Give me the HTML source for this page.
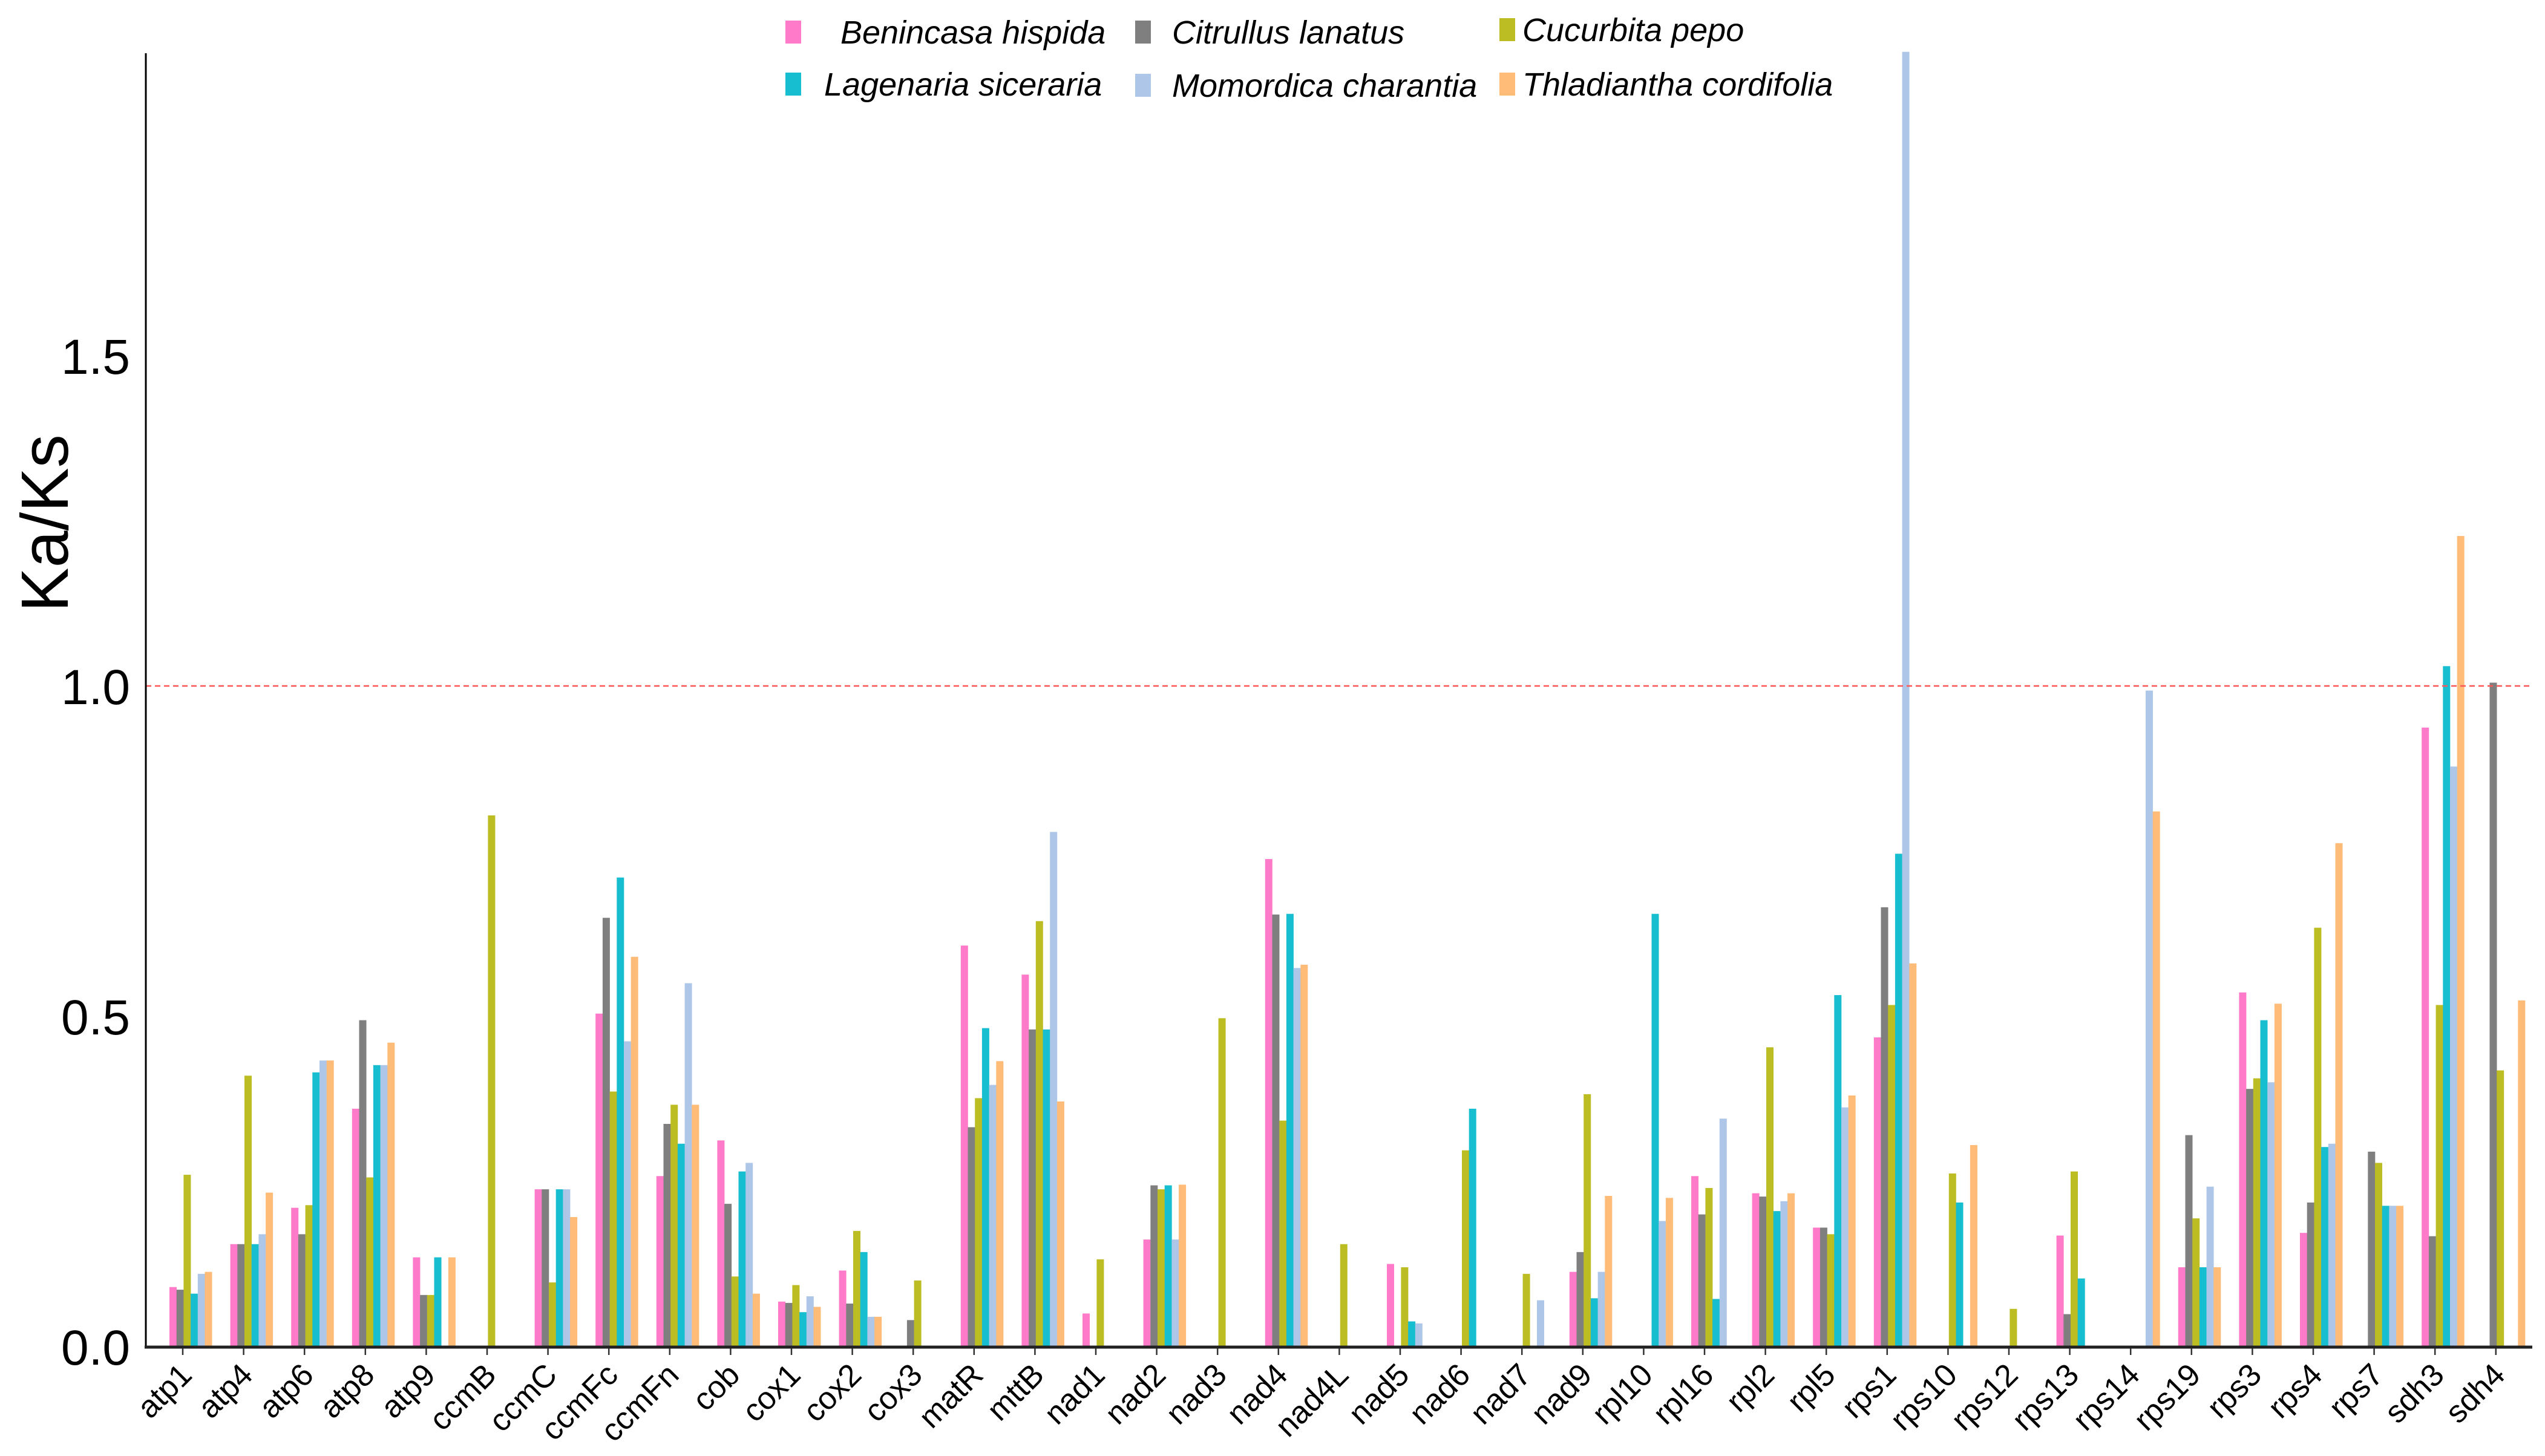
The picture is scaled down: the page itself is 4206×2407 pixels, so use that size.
<!DOCTYPE html>
<html><head><meta charset="utf-8"><style>
html,body{margin:0;padding:0;background:#fff;}
svg{display:block;font-family:"Liberation Sans",Arial,sans-serif;}
</style></head><body>
<svg id="chart" width="4206" height="2407" viewBox="0 0 4206 2407" xmlns="http://www.w3.org/2000/svg">
<g id="bars"></g>
<g id="axes"></g>
<g id="legend"></g>
</svg>
<script>
const categories = ["atp1","atp4","atp6","atp8","atp9","ccmB","ccmC","ccmFc","ccmFn","cob","cox1","cox2","cox3","matR","mttB","nad1","nad2","nad3","nad4","nad4L","nad5","nad6","nad7","nad9","rpl10","rpl16","rpl2","rpl5","rps1","rps10","rps12","rps13","rps14","rps19","rps3","rps4","rps7","sdh3","sdh4"];
const benincasa = [0.09,0.155,0.21,0.36,0.135,0,0.238,0.504,0.258,0.312,0.068,0.115,0,0.607,0.563,0.05,0.162,0,0.738,0,0.125,0,0,0.113,0,0.258,0.232,0.18,0.468,0,0,0.168,0,0.12,0.536,0.172,0,0.937,0];
const citrullus = [0.086,0.155,0.17,0.494,0.078,0,0.238,0.649,0.337,0.216,0.066,0.065,0.04,0.332,0.48,0,0.244,0,0.654,0,0,0,0,0.143,0,0.2,0.227,0.18,0.665,0,0,0.049,0,0.32,0.39,0.218,0.295,0.167,1.005];
const cucurbita = [0.26,0.41,0.214,0.256,0.078,0.804,0.097,0.386,0.366,0.106,0.093,0.175,0.1,0.376,0.644,0.132,0.238,0.497,0.342,0.155,0.12,0.297,0.11,0.382,0,0.24,0.453,0.17,0.517,0.262,0.057,0.265,0,0.194,0.406,0.634,0.278,0.517,0.418];
const lagenaria = [0.08,0.155,0.415,0.426,0.135,0,0.238,0.71,0.307,0.265,0.052,0.143,0,0.482,0.48,0,0.244,0,0.655,0,0.038,0.36,0,0.073,0.655,0.072,0.205,0.532,0.746,0.218,0,0.103,0,0.12,0.494,0.302,0.213,1.03,0];
const momordica = [0.11,0.17,0.433,0.426,0,0,0.238,0.462,0.55,0.278,0.076,0.045,0,0.396,0.779,0,0.162,0,0.573,0,0.035,0,0.07,0.113,0.19,0.345,0.22,0.362,1.96,0,0,0,0.993,0.242,0.4,0.307,0.213,0.878,0];
const thladiantha = [0.113,0.233,0.433,0.46,0.135,0,0.196,0.59,0.366,0.08,0.06,0.045,0,0.432,0.371,0,0.245,0,0.578,0,0,0,0,0.228,0.225,0,0.232,0.38,0.58,0.305,0,0,0.81,0.12,0.519,0.762,0.213,1.227,0.524];
const seriesNames = ["Benincasa hispida","Citrullus lanatus","Cucurbita pepo","Lagenaria siceraria","Momordica charantia","Thladiantha cordifolia"];
const yTicks = [0.0,0.5,1.0,1.5];

const series = [benincasa,citrullus,cucurbita,lagenaria,momordica,thladiantha];
const colors = ["#ff7ac8","#7f7f7f","#bcbd22","#17becf","#aec7e8","#ffbb78"];
const NS = "http://www.w3.org/2000/svg";
const X0 = 241, X1 = 4185, Y0 = 2226, YTOP = 88, YMAX = 1.96;
const unit = (Y0 - 1134) / 1.0;
function yScale(v){ return Y0 - Math.min(v, YMAX) * unit; }
const firstTick = 302, step = 100.6;
function xScale(i){ return firstTick + i * step; }
const barStep = 11.7, barW = 12, groupOffset = -22;
function mk(tag, attrs, parent){ const e = document.createElementNS(NS, tag); for (const k in attrs) e.setAttribute(k, attrs[k]); parent.appendChild(e); return e; }

const gb = document.getElementById('bars');
series.forEach((arr, s) => {
  arr.forEach((v, i) => {
    if (!v) return;
    const y = yScale(v);
    const r = mk('rect', {x: xScale(i) + groupOffset + s * barStep, y: y, width: barW, height: Y0 - y, fill: colors[s]}, gb);
    
    
  });
});

const ga = document.getElementById('axes');
const ref = mk('line', {x1: X0, x2: X1, y1: yScale(1.0), y2: yScale(1.0), stroke: '#ff5555', 'stroke-width': 2.5, 'stroke-dasharray': '9,6'}, ga);


const ly = mk('line', {x1: X0, x2: X0, y1: YTOP, y2: Y0 + 2, stroke: '#000', 'stroke-width': 3}, ga);


const lx = mk('line', {x1: X0 - 2, x2: X1, y1: Y0 + 1, y2: Y0 + 1, stroke: '#222', 'stroke-width': 5}, ga);


yTicks.forEach(t => {
  const tx = mk('text', {x: 215, y: yScale(t) + 30, 'text-anchor': 'end', 'font-size': 82, fill: '#000'}, ga);
  tx.textContent = t.toFixed(1);
  
  
});
categories.forEach((c, i) => {
  const x = xScale(i);
  const tk = mk('line', {x1: x, x2: x, y1: Y0 + 3, y2: Y0 + 14, stroke: '#333', 'stroke-width': 2.5}, ga);
  
  
  const tx = mk('text', {x: x + 18, y: Y0 + 50, 'text-anchor': 'end', 'font-size': 52, fill: '#000', transform: 'rotate(-45 ' + (x + 18) + ' ' + (Y0 + 50) + ')'}, ga);
  tx.textContent = c;
  
  
});
const yl = mk('text', {x: 0, y: 0, 'text-anchor': 'middle', 'font-size': 110, fill: '#000', transform: 'translate(112 865) rotate(-90)'}, ga);
yl.textContent = 'Ka/Ks';



const gl = document.getElementById('legend');
const legPos = [[1298,1389,54],[1876,1937,54],[2478,2516,50],[1298,1362,140],[1876,1937,142],[2478,2516,140]];
seriesNames.forEach((n, s) => {
  const p = legPos[s];
  const m = mk('rect', {x: p[0], y: p[2] - 20, width: 26, height: 38, fill: colors[s]}, gl);
  
  
  const t = mk('text', {x: p[1], y: p[2] + 18, 'font-size': 54, 'font-style': 'italic', fill: '#000'}, gl);
  t.textContent = n;
  
  
});
</script>
</body></html>
